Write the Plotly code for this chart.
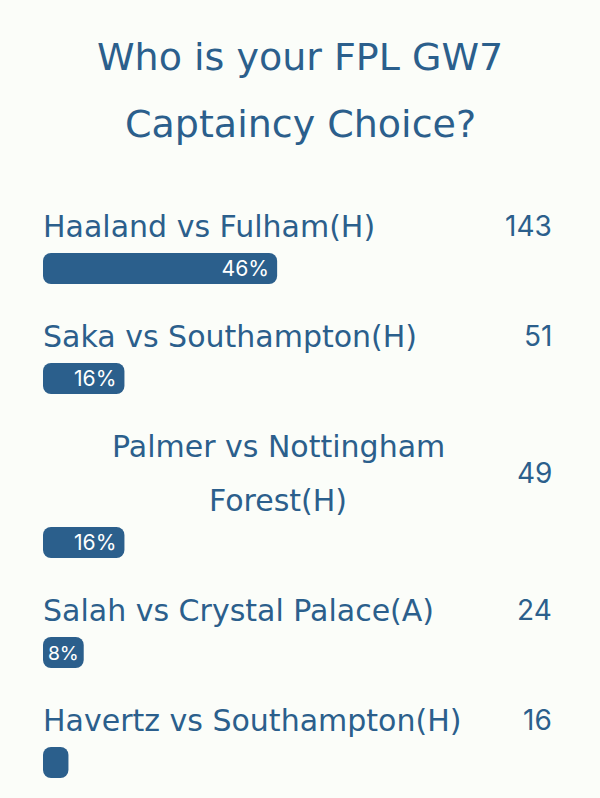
import plotly.graph_objects as go

# poll data
title_lines = ['Who is your FPL GW7', 'Captaincy Choice?']
label_lines = [
    ['Haaland vs Fulham(H)'],
    ['Saka vs Southampton(H)'],
    ['Palmer vs Nottingham', 'Forest(H)'],
    ['Salah vs Crystal Palace(A)'],
    ['Havertz vs Southampton(H)'],
]
votes = [143, 51, 49, 24, 16]
percents = [46, 16, 16, 8, 5]

BLUE = '#2b5f8c'
BG = '#fbfdf9'
FONT = 'DejaVu Sans'
NUM_FONT = 'Inter'

# vertical layout (pixels from top)
first_bar = 268.5
row_step = 110
line_h = 54
label_gap = 43.5

bar_y = []
y = first_bar
for lines in label_lines:
    y += (len(lines) - 1) * line_h
    bar_y.append(y)
    y += row_step

bar_text = [f'{p}%' if p >= 8 else '' for p in percents]

fig = go.Figure()
# explicit base -> floating bars, rounded at both ends
fig.add_trace(go.Bar(
    x=percents, base=[0] * len(percents), y=bar_y, orientation='h', width=31,
    marker=dict(color=BLUE, line=dict(width=0), cornerradius=8),
    text=bar_text, textposition='inside', insidetextanchor='end',
    constraintext='none', textangle=0, cliponaxis=False,
    textfont=dict(color='white', size=22, family=NUM_FONT),
    hoverinfo='skip',
))

annotations = []
# title
for i, t in enumerate(title_lines):
    annotations.append(dict(
        text=t, xref='paper', yref='y', x=0.5, y=57 + i * 67,
        xanchor='center', yanchor='middle', showarrow=False,
        font=dict(size=38, color=BLUE, family=FONT)))

# option labels and vote counts
x_left = 41 / 600
x_right = 554 / 600
for lines, n, by in zip(label_lines, votes, bar_y):
    first = by - label_gap - (len(lines) - 1) * line_h
    multi = len(lines) > 1
    for j, t in enumerate(lines):
        annotations.append(dict(
            text=t, xref='paper', yref='y',
            x=278 / 600 if multi else x_left, y=first + j * line_h + 1,
            xanchor='center' if multi else 'left', yanchor='middle',
            showarrow=False, font=dict(size=30, color=BLUE, family=FONT)))
    annotations.append(dict(
        text=str(n), xref='paper', yref='y', x=x_right,
        y=first + (len(lines) - 1) * line_h / 2 + 1,
        xanchor='right', yanchor='middle', showarrow=False,
        font=dict(size=28, color=BLUE, family=NUM_FONT)))

fig.update_layout(
    width=600, height=798,
    margin=dict(l=0, r=0, t=0, b=0),
    paper_bgcolor=BG, plot_bgcolor=BG,
    showlegend=False,
    annotations=annotations,
    xaxis=dict(range=[0, 100], domain=[43 / 600, 552 / 600], visible=False, fixedrange=True),
    yaxis=dict(range=[798, 0], domain=[0, 1], visible=False, fixedrange=True),
)

fig.write_html('out.html', config={'displayModeBar': False},
               post_script="document.body.style.margin='0';document.body.style.background='" + BG + "';")
